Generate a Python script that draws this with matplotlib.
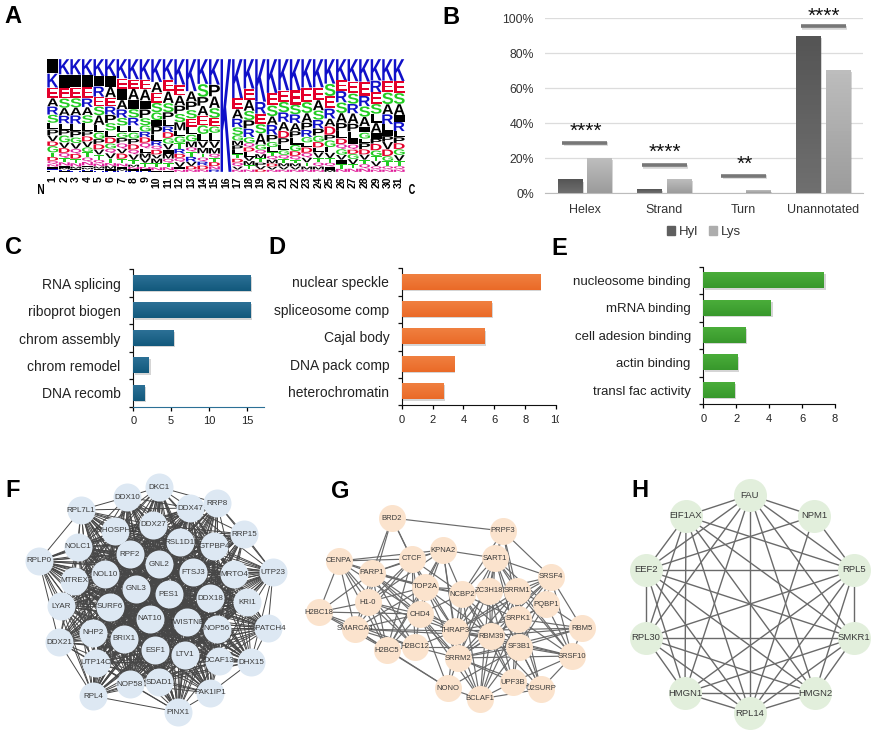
import itertools
import numpy as np
import matplotlib
matplotlib.use("Agg")
import matplotlib.pyplot as plt
import matplotlib.patheffects as pe
from matplotlib.collections import LineCollection
from matplotlib.colors import LinearSegmentedColormap
from matplotlib.patches import Patch
from matplotlib.transforms import Affine2D, Bbox, IdentityTransform

W, H = 878, 735
plt.rcParams["font.family"] = ["Liberation Sans", "DejaVu Sans"]

# panel A, letters of each column from top to bottom, block = the modified residue
LOGO_LETTERS = [
    "■KEARSLPVDGTDQNIHF", "K■ESARLPGVDQTNIMHF", "K■ESARLPGVQDTNMIH", "K■ERASLPDVGTQNIMHF",
    "K■RESALGPDVTQNMIH", "K■AERPSLDGQVTNMIH", "KE■ARSLGPQVDTNIMH", "KEA■SRLGPDQVTMNIH",
    "KEA■PSGRDQLMVTNIH", "KAESG■PLRQDVMTNI", "KEASPLRDGV■MQTNI", "KEAPSMLGTRDQV■N",
    "KAPSELGMQTRVDN", "KSPAEGLVMTQRDN", "KPASEGLVMQTDNR", "K",
    "KEARSGMPLTDQVN", "KEASPRGQDLVMTN", "KRESAGQMTPVD", "KESARPGLTQMDVN",
    "KESRADPLGQTMVN", "KESRAPLGDQTMVN", "KESAPRGLDQVTMN", "KEASRPGDLVTQMN",
    "KSERADPGLVTQ■M", "KERSAPLDQGV■TN", "KESRAPL■QDGVTN", "KERSA■GLPDVTQN",
    "KRESLA■PDGTVQN", "KESARL■PVDGTQN", "KESA■RLPDGVTQN",
]
LOGO_HEIGHTS = [
    [44, 43, 32, 25, 25, 25, 20, 18, 18, 14, 20, 13, 12, 10, 8, 6, 5, 5],
    [44, 38, 30, 27, 22, 22, 18, 16, 20, 16, 14, 14, 12, 10, 6, 5, 4, 3],
    [44, 36, 30, 26, 22, 24, 20, 18, 16, 16, 14, 14, 12, 10, 6, 5, 4],
    [44, 32, 32, 24, 22, 22, 22, 14, 14, 16, 14, 14, 12, 10, 6, 5, 4, 3],
    [46, 28, 28, 26, 24, 26, 20, 18, 14, 14, 14, 14, 10, 8, 6, 5, 4],
    [46, 28, 28, 24, 22, 22, 20, 18, 16, 14, 12, 14, 12, 8, 8, 5, 3],
    [50, 28, 28, 24, 22, 20, 18, 14, 14, 14, 12, 14, 12, 8, 6, 5, 3],
    [52, 24, 28, 24, 22, 20, 18, 16, 14, 14, 12, 14, 12, 6, 6, 4, 3],
    [52, 24, 28, 22, 22, 18, 16, 14, 14, 14, 12, 12, 12, 10, 6, 4, 3],
    [58, 26, 26, 24, 20, 14, 22, 16, 12, 10, 12, 10, 12, 10, 8, 4],
    [50, 28, 28, 22, 18, 16, 14, 14, 14, 14, 10, 12, 10, 10, 8, 4],
    [62, 26, 24, 20, 20, 20, 14, 16, 14, 12, 10, 10, 12, 6, 6],
    [76, 24, 20, 20, 20, 18, 16, 14, 10, 12, 12, 10, 8, 6],
    [62, 32, 22, 24, 24, 22, 18, 16, 14, 10, 10, 10, 10, 6],
    [62, 28, 28, 24, 20, 16, 20, 16, 14, 10, 10, 10, 8, 6],
    [337],
    [100, 28, 24, 22, 20, 14, 12, 12, 10, 12, 10, 10, 8, 6],
    [70, 26, 26, 22, 20, 20, 14, 10, 10, 12, 10, 10, 10, 6],
    [100, 28, 24, 22, 26, 12, 10, 10, 10, 8, 8, 6],
    [88, 32, 28, 22, 26, 18, 14, 12, 10, 10, 10, 8, 8, 6],
    [78, 28, 26, 24, 22, 18, 16, 14, 12, 10, 10, 8, 8, 6],
    [78, 36, 24, 22, 20, 16, 18, 16, 12, 10, 8, 8, 8, 6],
    [72, 36, 28, 24, 18, 18, 14, 12, 14, 12, 12, 10, 8, 6],
    [72, 32, 26, 24, 22, 18, 16, 14, 12, 14, 12, 10, 8, 6],
    [64, 32, 32, 26, 20, 22, 14, 18, 14, 14, 12, 10, 8, 6],
    [52, 26, 28, 26, 24, 20, 18, 14, 12, 14, 12, 10, 12, 8],
    [52, 28, 24, 22, 24, 18, 18, 12, 12, 10, 12, 12, 10, 8],
    [52, 32, 24, 24, 22, 14, 14, 10, 14, 12, 12, 10, 10, 8],
    [52, 28, 28, 24, 22, 24, 14, 12, 16, 14, 12, 12, 8, 6],
    [52, 28, 28, 24, 24, 16, 12, 14, 18, 16, 12, 12, 8, 6],
    [52, 28, 26, 26, 16, 22, 14, 14, 14, 14, 14, 12, 8, 6],
]
LOGO_COLORS = {"K": "#1010c8", "R": "#1010c8", "H": "#1010c8", "E": "#e4002b", "D": "#e4002b",
               "S": "#22cc22", "G": "#22cc22", "T": "#22cc22", "Q": "#e0209a", "N": "#e0209a"}

# panel B
STRUCT_CATS = ["Helex", "Strand", "Turn", "Unannotated"]
HYL_VALUES = [7.5, 2.2, 0, 89.5]
LYS_VALUES = [19.8, 8, 1.3, 70]
SIG_LEVEL = [28.7, 16, 10, 95.5]
SIG_STARS = ["****", "****", "**", "****"]
STAR_BASE = [32.2, 20.2, 13.3, 98]

# panels C, D, E
BP_TERMS = ["RNA splicing", "riboprot biogen", "chrom assembly", "chrom remodel", "DNA recomb"]
BP_VALUES = [15.55, 15.55, 5.37, 2.1, 1.5]
CC_TERMS = ["nuclear speckle", "spliceosome comp", "Cajal body", "DNA pack comp", "heterochromatin"]
CC_VALUES = [8.96, 5.8, 5.37, 3.38, 2.7]
MF_TERMS = ["nucleosome binding", "mRNA binding", "cell adesion binding", "actin binding", "transl fac activity"]
MF_VALUES = [7.35, 4.12, 2.6, 2.1, 1.93]

# panel F network
F_NAMES = ["DKC1", "DDX10", "DDX47", "RRP8", "RPL7L1", "DDX27", "MPHOSPH10", "RRP15", "RSL1D1", "GTPBP4",
           "NOLC1", "RPF2", "RPLP0", "GNL2", "FTSJ3", "MRTO4", "UTP23", "NOL10", "MTREX", "GNL3",
           "PES1", "DDX18", "KRI1", "LYAR", "SURF6", "NAT10", "TWISTNB", "NOP56", "GPATCH4", "NHP2",
           "BRIX1", "DDX21", "ESF1", "LTV1", "DCAF13", "DHX15", "UTP14C", "NOP58", "SDAD1", "RPL4",
           "PAK1IP1", "PINX1"]
F_X = [159, 127, 190, 217, 81, 153, 115, 244, 180, 214, 78, 130, 39, 159, 193, 234, 273, 105, 74, 136,
       169, 210, 247, 61, 110, 150, 187, 217, 268, 93, 124, 59, 155, 185, 219, 251, 96, 130, 159, 93,
       210, 178]
F_Y = [487, 497, 508, 503, 510, 525, 531, 534, 542, 546, 547, 554, 561, 564, 572, 574, 572, 574, 581, 589,
       594, 598, 602, 606, 607, 619, 622, 629, 628, 633, 639, 642, 650, 655, 661, 662, 663, 684, 682, 696,
       693, 712]
F_RIM = ["DKC1", "DDX10", "RRP8", "RPL7L1", "RRP15", "RPLP0", "UTP23", "LYAR", "GPATCH4", "DDX21",
         "DHX15", "RPL4", "PAK1IP1", "PINX1", "KRI1"]
F_RIM_EDGES = [("RPLP0", "RPL7L1"), ("RPLP0", "LYAR"), ("RPLP0", "DDX21"), ("DDX21", "RPL4"), ("LYAR", "RPL4"),
               ("RPL4", "PINX1"), ("PINX1", "PAK1IP1"), ("DHX15", "GPATCH4"), ("GPATCH4", "UTP23"),
               ("UTP23", "RRP15"), ("RRP15", "RRP8"), ("RRP8", "DKC1"), ("DKC1", "DDX10"), ("DDX10", "RPL7L1"),
               ("PAK1IP1", "DHX15"), ("UTP23", "DHX15"), ("RPLP0", "RPL4"), ("RRP8", "UTP23"), ("KRI1", "UTP23"),
               ("KRI1", "GPATCH4"), ("KRI1", "DHX15")]

# panel G network
G_NAMES = ["BRD2", "PRPF3", "KPNA2", "SART1", "CTCF", "CENPA", "PARP1", "SRSF4", "TOP2A", "ZC3H18",
           "SRRM1", "NCBP2", "H1-0", "PQBP1", "CHD4", "H2BC18", "SRPK1", "RBM5", "SMARCA4", "THRAP3",
           "RBM39", "SF3B1", "H2BC12", "H2BC5", "SRSF10", "SRRM2", "UPF3B", "NONO", "U2SURP", "BCLAF1"]
G_X = [392, 503, 443, 495, 412, 339, 372, 551, 425, 489, 517, 462, 368, 546, 420, 319, 518, 582, 355, 455,
       491, 519, 415, 387, 572, 458, 513, 448, 541, 480]
G_Y = [518, 531, 550, 558, 559, 561, 573, 577, 587, 591, 591, 594, 602, 604, 614, 612, 619, 628, 629, 631,
       636, 647, 647, 650, 656, 658, 682, 688, 689, 699]
G_LINKS = {
    "BRD2": ["PRPF3", "PARP1", "CTCF", "TOP2A", "H1-0"],
    "CTCF": ["CENPA", "KPNA2", "PARP1", "H1-0", "CHD4", "TOP2A", "H2BC5", "H2BC12", "SMARCA4", "NCBP2", "THRAP3"],
    "KPNA2": ["CENPA", "PARP1", "TOP2A", "CHD4", "H2BC5", "NCBP2", "THRAP3", "SART1", "SRRM2", "H1-0"],
    "CENPA": ["PARP1", "H1-0", "H2BC18", "SMARCA4", "CHD4", "H2BC5", "H2BC12", "TOP2A"],
    "PARP1": ["TOP2A", "NCBP2", "CHD4", "H1-0", "SMARCA4", "H2BC5", "H2BC12", "H2BC18", "THRAP3", "SRRM2"],
    "TOP2A": ["NCBP2", "CHD4", "H1-0", "H2BC5", "SMARCA4", "THRAP3", "ZC3H18", "SRRM2", "RBM39"],
    "H1-0": ["H2BC18", "SMARCA4", "CHD4", "H2BC5", "H2BC12", "THRAP3"],
    "H2BC18": ["SMARCA4", "CHD4", "H2BC5", "H2BC12"],
    "SMARCA4": ["CHD4", "H2BC5", "H2BC12", "THRAP3", "RBM39", "NONO"],
    "CHD4": ["H2BC5", "H2BC12", "THRAP3", "SRRM2", "NONO", "NCBP2", "RBM39", "BCLAF1"],
    "H2BC5": ["H2BC12", "NONO"],
    "H2BC12": ["THRAP3", "SRRM2", "SF3B1"],
    "PRPF3": ["SART1", "SRSF4", "SRRM1", "ZC3H18", "SRPK1", "NCBP2"],
    "SART1": ["SRSF4", "SRRM1", "ZC3H18", "NCBP2", "SRPK1", "THRAP3", "RBM39", "SF3B1", "PQBP1", "SRRM2", "SRSF10"],
    "SRSF4": ["SRRM1", "ZC3H18", "PQBP1", "RBM5", "SRPK1", "SF3B1", "RBM39", "SRSF10", "THRAP3", "SRRM2"],
    "ZC3H18": ["SRRM1", "NCBP2", "THRAP3", "SRPK1", "RBM39", "SF3B1", "SRRM2", "BCLAF1", "U2SURP", "UPF3B"],
    "SRRM1": ["NCBP2", "THRAP3", "PQBP1", "SRPK1", "RBM39", "SF3B1", "SRRM2", "BCLAF1", "UPF3B", "SRSF10", "U2SURP"],
    "NCBP2": ["THRAP3", "SRPK1", "RBM39", "SF3B1", "SRRM2", "BCLAF1", "UPF3B"],
    "PQBP1": ["RBM5", "SRPK1", "SF3B1", "SRSF10", "RBM39"],
    "SRPK1": ["THRAP3", "RBM39", "SF3B1", "SRRM2", "BCLAF1", "SRSF10", "RBM5", "U2SURP"],
    "RBM5": ["SF3B1", "RBM39", "THRAP3", "SRSF10", "SRRM2"],
    "THRAP3": ["RBM39", "SF3B1", "SRRM2", "BCLAF1", "NONO", "SRSF10"],
    "RBM39": ["SF3B1", "SRRM2", "BCLAF1", "UPF3B", "SRSF10", "U2SURP"],
    "SF3B1": ["SRRM2", "SRSF10", "UPF3B", "U2SURP", "BCLAF1", "NONO"],
    "SRRM2": ["NONO", "BCLAF1", "UPF3B", "U2SURP", "SRSF10"],
    "SRSF10": ["U2SURP", "UPF3B"],
    "UPF3B": ["BCLAF1", "U2SURP"],
    "U2SURP": ["BCLAF1"],
    "NONO": ["BCLAF1"],
}

# panel H network
H_NAMES = ["FAU", "NPM1", "RPL5", "SMKR1", "HMGN2", "RPL14", "HMGN1", "RPL30", "EEF2", "EIF1AX"]
H_X = [750, 814, 854, 854, 815, 750, 685, 646, 646, 686]
H_Y = [495, 516, 570, 638, 693, 713, 693, 638, 570, 516]
NPM1_LINKS = ["FAU", "RPL5", "EEF2", "RPL14"]


def pxAxes(fig, left, top, right, bottom):
    return fig.add_axes([left / W, 1 - bottom / H, (right - left) / W, (bottom - top) / H])


# squeezes the letter outline into a box, the way a sequence logo does
class FitLetter(pe.AbstractPathEffect):
    def __init__(self, ax, box):
        super().__init__()
        self.ax = ax
        self.box = box

    def draw_path(self, renderer, gc, tpath, affine, rgbFace=None):
        ext = tpath.get_extents()
        (x0, y0), (x1, y1) = self.ax.transData.transform(self.box)
        fit = Affine2D().translate(-ext.x0, -ext.y0).scale((x1 - x0) / ext.width, (y1 - y0) / ext.height).translate(x0, y0)
        renderer.draw_path(gc, tpath, fit, rgbFace)


def drawLogo(fig):
    ax = pxAxes(fig, 47, 59, 405, 172)
    ax.set_xlim(0.5, 31.5)
    ax.set_ylim(0, 100)
    for col, (letters, heights) in enumerate(zip(LOGO_LETTERS, LOGO_HEIGHTS), start=1):
        scale = 100 / sum(heights)
        top = 100
        for letter, h in zip(letters, heights):
            h = h * scale
            box = [[col - 0.47, top - h + 0.15], [col + 0.47, top - 0.15]]
            # only the layout box follows the font size, the outline is refitted to box
            size = min(6, max(2.5, h * 1.13 / 1.7))
            t = ax.text(col, top - h / 2, letter, fontsize=size, fontweight="bold", ha="center", va="center",
                        color=LOGO_COLORS.get(letter, "black"))
            t.set_path_effects([FitLetter(ax, box)])
            top -= h
    ax.set_xticks(range(1, 32))
    ax.set_xticklabels(range(1, 32), rotation=90, fontsize=7.5, fontweight="bold", va="top")
    ax.tick_params(axis="x", length=0, pad=3.4)
    ax.set_yticks([])
    for s in ax.spines.values():
        s.set_visible(False)


def gradientFill(ax, rects, top_color, bottom_color):
    cmap = LinearSegmentedColormap.from_list("bar", [top_color, bottom_color])
    inverted = ax.yaxis_inverted()
    for r in rects:
        if r.get_width() == 0 or r.get_height() == 0:
            continue
        r.set_path_effects([pe.withSimplePatchShadow(offset=(1, -1), shadow_rgbFace="#888888", alpha=0.35)])
        x0, x1 = r.get_x(), r.get_x() + r.get_width()
        y0, y1 = r.get_y(), r.get_y() + r.get_height()
        ext = (x0, x1, y1, y0) if inverted else (x0, x1, y0, y1)
        ax.imshow(np.linspace(0, 1, 32)[:, None], cmap=cmap, extent=ext, aspect="auto", origin="upper",
                  zorder=r.get_zorder() + 0.1)


def drawStruct(fig):
    ax = pxAxes(fig, 545, 18.3, 863, 193.3)
    x = np.arange(len(STRUCT_CATS))
    bw = 0.31
    r1 = ax.bar(x - 0.185, HYL_VALUES, bw, color="#5f5f5f", zorder=3)
    r2 = ax.bar(x + 0.185, LYS_VALUES, bw, color="#adadad", zorder=3)
    gradientFill(ax, r1, "#555555", "#6f6f6f")
    gradientFill(ax, r2, "#bdbdbd", "#9c9c9c")
    ax.set_xlim(-0.5, 3.5)
    ax.set_ylim(0, 100)
    ax.set_yticks([0, 20, 40, 60, 80, 100])
    ax.set_yticklabels(["0%", "20%", "40%", "60%", "80%", "100%"], fontsize=8.8, color="#333333")
    ax.set_xticks(x)
    ax.set_xticklabels(STRUCT_CATS, fontsize=9, color="#333333")
    ax.tick_params(length=0)
    ax.tick_params(axis="x", pad=8)
    ax.tick_params(axis="y", pad=8)
    ax.grid(axis="y", color="#dcdcdc", lw=0.9, zorder=0)
    for side in ["top", "right", "left"]:
        ax.spines[side].set_visible(False)
    ax.spines["bottom"].set_color("#bcbcbc")
    for i in x:
        ax.plot([i - 0.28, i + 0.28], [SIG_LEVEL[i], SIG_LEVEL[i]], color="#777777", lw=2.6, zorder=4, solid_capstyle="butt",
                path_effects=[pe.SimpleLineShadow(offset=(0.8, -1), shadow_color="#999999", alpha=0.4), pe.Normal()])
        t = ax.text(i + 0.01, STAR_BASE[i], SIG_STARS[i], fontsize=15, ha="center", va="baseline", color="#111111", zorder=5)
        t.set_clip_on(False)
    handles = [Patch(color="#5f5f5f", label="Hyl"), Patch(color="#adadad", label="Lys")]
    leg = ax.legend(handles=handles, ncol=2, loc="center", bbox_to_anchor=(0.5, -0.222), frameon=False, fontsize=9.5,
                    handlelength=0.6, handleheight=0.6, handletextpad=0.3, columnspacing=0.8)
    for text in leg.get_texts():
        text.set_color("#333333")


def drawTerms(fig, box, terms, values, xmax, xticks, fill, top_color, bottom_color, label_size, bottom_color_line):
    ax = pxAxes(fig, *box)
    y = np.arange(len(terms))
    rects = ax.barh(y, values, 0.56, color=fill, zorder=3)
    ax.set_xlim(0, xmax)
    ax.set_ylim(len(terms) - 0.5, -0.5)
    gradientFill(ax, rects, top_color, bottom_color)
    ax.set_ylim(len(terms) - 0.5, -0.5)
    ax.set_yticks(y)
    ax.set_yticklabels(terms, fontsize=label_size, color="#222222")
    ax.tick_params(axis="y", length=0, pad=9)
    ax.set_yticks(np.arange(-0.5, len(terms)), minor=True)
    ax.tick_params(axis="y", which="minor", length=3, width=0.9, color="#111111")
    ax.set_xticks(xticks)
    ax.tick_params(axis="x", length=3, width=0.9, labelsize=8, labelcolor="#222222", pad=4)
    for side in ["top", "right"]:
        ax.spines[side].set_visible(False)
    ax.spines["left"].set_color("#111111")
    ax.spines["bottom"].set_color(bottom_color_line)
    return ax


def drawNetwork(ax, names, xs, ys, edges, node_px, node_color, edge_color, edge_lw, text_size):
    pos = dict(zip(names, zip(xs, ys)))
    segs = [(pos[a], pos[b]) for a, b in edges]
    ax.add_collection(LineCollection(segs, colors=edge_color, linewidths=edge_lw, zorder=1))
    size = (node_px * 72 / 100) ** 2
    ax.scatter(xs, ys, s=size, color=node_color, linewidths=0, zorder=2)
    for name, px, py in zip(names, xs, ys):
        ax.text(px, py, name, fontsize=text_size, ha="center", va="center", color="#3a3a3a", zorder=3)


def main():
    fig = plt.figure(figsize=(W / 100, H / 100), dpi=100)

    overlay = fig.add_axes([0, 0, 1, 1])
    overlay.set_xlim(0, W)
    overlay.set_ylim(H, 0)
    overlay.axis("off")

    drawLogo(fig)
    drawStruct(fig)
    drawTerms(fig, (133.2, 269.3, 264.3, 406.7), BP_TERMS, BP_VALUES, 17.3, [0, 5, 10, 15], "#1a6285",
              "#2c7096", "#12597c", 10, "#2c7096")
    axD = drawTerms(fig, (401.8, 268.3, 556, 405.3), CC_TERMS, CC_VALUES, 10, [0, 2, 4, 6, 8, 10], "#ef7030",
                    "#f08040", "#ea6a28", 10, "#111111")
    # the 10 is cut by panel E in the source figure
    fig.canvas.draw()
    last = axD.get_xticklabels()[-1]
    last.set_clip_on(True)
    last.set_clip_box(Bbox([[0, 0], [559, H]]).transformed(IdentityTransform()))
    drawTerms(fig, (703.3, 266.7, 835, 404), MF_TERMS, MF_VALUES, 8, [0, 2, 4, 6, 8], "#3fa535",
              "#4aad3a", "#38982c", 9.5, "#111111")

    # F: everything is linked except along the rim
    f_edges = [(a, b) for a, b in itertools.combinations(F_NAMES, 2) if not (a in F_RIM and b in F_RIM)]
    f_edges = f_edges + F_RIM_EDGES
    drawNetwork(overlay, F_NAMES, F_X, F_Y, f_edges, 28, "#dde8f3", "#474747", 0.7, 5.8)

    g_edges = [(a, b) for a, links in G_LINKS.items() for b in links]
    drawNetwork(overlay, G_NAMES, G_X, G_Y, g_edges, 27, "#fbe3cd", "#6a6a6a", 0.85, 5.5)

    h_edges = []
    for a, b in itertools.combinations(H_NAMES, 2):
        if a == "NPM1" and b not in NPM1_LINKS:
            continue
        if b == "NPM1" and a not in NPM1_LINKS:
            continue
        h_edges.append((a, b))
    drawNetwork(overlay, H_NAMES, H_X, H_Y, h_edges, 33, "#e2efdc", "#6a6a6a", 1.0, 6.8)

    for letter, x, y in [("A", 4, 23), ("B", 442, 24), ("C", 5, 254), ("D", 268, 254), ("E", 551, 255),
                         ("F", 5, 497), ("G", 331, 498), ("H", 631, 497)]:
        overlay.text(x, y, letter, fontsize=17, fontweight="bold", ha="left", va="baseline", color="black")
    for letter, xc in [("N", 41), ("C", 412)]:
        t = overlay.text(xc, 189, letter, fontsize=6, fontweight="bold", ha="center", va="center")
        t.set_path_effects([FitLetter(overlay, [[xc - 3, 194], [xc + 3, 184]])])

    fig.savefig("out.png", dpi=100)
    plt.close(fig)


if __name__ == "__main__":
    main()
